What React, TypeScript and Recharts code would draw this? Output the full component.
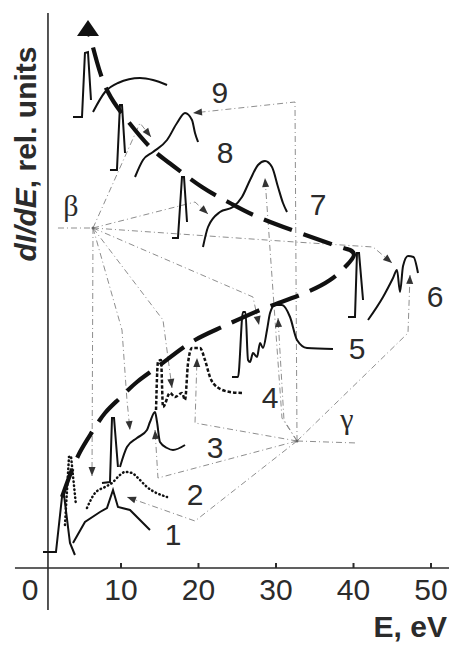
import { LineChart, Line, XAxis, YAxis, ReferenceLine, ReferenceDot } from 'recharts';

type P = [number, number];

// E, eV  vs  dI/dE, rel. units
const X_MIN = -5.61;
const X_MAX = 52.32;
const Y_MAX = 568;
const W = 449;
const H = 646;
const AXIS_H = 78;

const xTicks = [0, 10, 20, 30, 40, 50];

// thick dashed trend line through the sharp peaks
const trend: P[] = [
  [2.39, 71], [3.42, 93], [4.71, 116], [6.26, 136], [7.94, 155], [9.87, 170], [12.06, 186],
  [15.03, 203], [18.9, 225], [23.03, 241], [27.94, 258], [33.1, 273], [36.97, 288], [39.16, 303],
  [40.06, 313], [39.55, 318], [38.26, 321], [33.1, 335], [27.68, 351], [24.06, 365], [20.45, 381],
  [16.58, 403], [13.74, 421], [10.77, 448], [8.32, 476], [6.9, 506], [6.13, 528], [5.87, 533],
];
const trendTip: P = [5.74, 548];

// spectra 1..9 (sharp part / broad part)
const s1a: P[] = [[-0.06, 16], [1.61, 16], [2.39, 71], [2.65, 73], [3.42, 25], [4.06, 13]];
const s1b: P[] = [[3.81, 25], [5.35, 46], [7.29, 56], [8.19, 60], [8.97, 78], [9.61, 61], [11.16, 58], [13.74, 38]];
const s2a: P[] = [[2.77, 43], [3.29, 111], [3.55, 112], [4.19, 63]];
const s2b: P[] = [[5.61, 60], [6.65, 75], [7.94, 81], [8.84, 85], [9.87, 93], [10.52, 96], [11.42, 95], [12.06, 91], [13.35, 81], [15.94, 71]];
const s3a: P[] = [[7.55, 85], [8.58, 86], [8.84, 150], [9.1, 150], [9.61, 101]];
const s3b: P[] = [[9.87, 101], [10.77, 121], [12.06, 130], [13.35, 138], [13.74, 146], [14.39, 156], [14.65, 146], [15.03, 126], [15.94, 120], [16.71, 118], [18.26, 123]];
const s4: P[] = [[14.52, 158], [14.77, 206], [15.16, 208], [15.42, 161], [16.32, 175], [16.97, 171], [17.87, 175], [18.26, 168], [18.65, 205], [19.16, 220], [20.19, 220], [20.84, 208], [21.48, 191], [22.39, 181], [24.06, 176], [25.61, 175]];
const s5: P[] = [[24.32, 191], [25.1, 191], [25.74, 256], [26.06, 256], [26.39, 208], [26.65, 206], [27.03, 215], [27.55, 211], [27.94, 225], [28.32, 220], [28.84, 238], [29.23, 255], [29.87, 263], [30.77, 263], [31.81, 251], [32.71, 228], [34.0, 220], [37.35, 219]];
const s6a: P[] = [[39.29, 251], [40.19, 251], [40.45, 315], [40.71, 315], [41.23, 268]];
const s6b: P[] = [[41.87, 248], [43.81, 271], [45.1, 290], [45.61, 298], [46.0, 276], [46.39, 302], [47.03, 312], [47.74, 311], [48.32, 295]];
const s7a: P[] = [[16.58, 330], [17.35, 330], [17.87, 391], [18.13, 391], [18.52, 346]];
const s7b: P[] = [[20.58, 321], [21.23, 341], [22.77, 356], [24.45, 361], [25.61, 371], [26.65, 388], [27.68, 403], [28.58, 407], [29.48, 401], [30.26, 381], [30.9, 365], [31.42, 356]];
const s8a: P[] = [[8.58, 398], [9.48, 398], [9.87, 463], [10.13, 463], [10.52, 415]];
const s8b: P[] = [[11.81, 391], [12.84, 408], [14.13, 416], [15.94, 428], [17.23, 445], [18.26, 455], [19.16, 448], [19.55, 435], [19.94, 426]];
const s9a: P[] = [[3.81, 451], [4.97, 451], [5.35, 515], [5.74, 516], [6.13, 468]];
const s9b: P[] = [[6.39, 456], [7.94, 476], [9.61, 485], [12.45, 490], [14.13, 488], [15.94, 483]];

// guide lines from the beta and gamma points
const beta: P = [6.39, 340];
const gamma: P = [32.71, 127];
const betaLines: P[][] = [
  [[1.87, 340], beta],
  [beta, [12.45, 445], [13.87, 431]],
  [beta, [19.55, 366], [21.23, 354]],
  [beta, [32.45, 326], [42.52, 321], [44.97, 305]],
  [beta, [27.03, 271], [27.81, 243]],
  [beta, [6.26, 92]],
  [beta, [10.13, 238], [10.77, 168], [11.16, 138]],
  [beta, [15.42, 248], [16.58, 180]],
];
const gammaLines: P[][] = [
  [gamma, [40.45, 125]],
  [gamma, [47.03, 235], [47.29, 293]],
  [gamma, [31.03, 148], [30.26, 250]],
  [gamma, [30.77, 150], [28.58, 390]],
  [gamma, [32.45, 466], [19.29, 455]],
  [gamma, [19.55, 145], [19.81, 210]],
  [gamma, [14.77, 90], [14.39, 138]],
  [gamma, [19.55, 47], [10.77, 71]],
];

const numLabels = ['1', '2', '3', '4', '5', '6', '7', '8', '9'];
const numE = [16.71, 19.55, 22.13, 29.23, 40.45, 50.52, 35.42, 23.42, 22.77];
const numY = [34, 74, 121, 171, 220, 272, 364, 416, 476];

const pts = (a: P[]) => a.map(([x, y]) => ({ x, y }));

const PX_PER_EV = W / (X_MAX - X_MIN);
const PX_PER_UNIT = (H - AXIS_H) / Y_MAX;
const SANS = '"Liberation Sans", Arial, sans-serif';
const SERIF = '"Liberation Serif", "DejaVu Serif", serif';
const INK = '#2b2b2b';
const GUIDE = '#8e8e8e';

function arrowDot(a: P[]) {
  return (props: any) => {
    const { cx, cy, index } = props;
    if (index !== a.length - 1 || cx == null) return <g key={`n${index}`} />;
    const [x0, y0] = a[index - 1];
    const [x1, y1] = a[index];
    const ang = Math.atan2(-(y1 - y0) * PX_PER_UNIT, (x1 - x0) * PX_PER_EV);
    const L = 9;
    const hw = 3.5;
    const bx = cx - L * Math.cos(ang);
    const by = cy - L * Math.sin(ang);
    const nx = -Math.sin(ang) * hw;
    const ny = Math.cos(ang) * hw;
    return (
      <polygon
        key={`a${index}`}
        points={`${cx},${cy} ${bx + nx},${by + ny} ${bx - nx},${by - ny}`}
        fill="#333"
      />
    );
  };
}

const TickMark = (props: any) => {
  const { x, y, payload } = props;
  const v = payload.value;
  return (
    <g>
      {v !== 0 && <line x1={x} x2={x} y1={y - 5} y2={y} stroke={INK} strokeWidth={2} />}
      <text x={v === 0 ? x - 13.5 : x} y={y + 32} textAnchor="middle" fontSize={30} fontFamily={SANS} fill={INK}>
        {v}
      </text>
    </g>
  );
};

const label = (s: string, size = 30, family = SANS) => (p: any) => (
  <text x={p.cx} y={p.cy} dy="0.36em" textAnchor="middle" fontSize={size} fontFamily={family} fill={INK}>
    {s}
  </text>
);

export default function App() {
  const spectra: { d: P[]; kind: 'solid' | 'dot' | 'dash'; curve: 'linear' | 'monotone' }[] = [
    { d: s1a, kind: 'solid', curve: 'linear' },
    { d: s1b, kind: 'solid', curve: 'linear' },
    { d: s2a, kind: 'dot', curve: 'linear' },
    { d: s2b, kind: 'dot', curve: 'monotone' },
    { d: s3a, kind: 'solid', curve: 'linear' },
    { d: s3b, kind: 'solid', curve: 'monotone' },
    { d: s4, kind: 'dash', curve: 'monotone' },
    { d: s5, kind: 'solid', curve: 'monotone' },
    { d: s6a, kind: 'solid', curve: 'linear' },
    { d: s6b, kind: 'solid', curve: 'monotone' },
    { d: s7a, kind: 'solid', curve: 'linear' },
    { d: s7b, kind: 'solid', curve: 'monotone' },
    { d: s8a, kind: 'solid', curve: 'linear' },
    { d: s8b, kind: 'solid', curve: 'monotone' },
    { d: s9a, kind: 'solid', curve: 'linear' },
    { d: s9b, kind: 'solid', curve: 'monotone' },
  ];

  return (
    <div style={{ position: 'absolute', left: 0, top: 0, width: W, height: H, background: '#fff' }}>
      <LineChart width={W} height={H} margin={{ top: 0, right: 0, bottom: 0, left: 0 }}>
        <XAxis
          type="number"
          dataKey="x"
          domain={[X_MIN, X_MAX]}
          allowDataOverflow
          ticks={xTicks}
          height={AXIS_H}
          axisLine={false}
          tickLine={false}
          tickSize={0}
          tickMargin={0}
          tick={<TickMark />}
          interval={0}
        />
        <YAxis type="number" dataKey="y" domain={[0, Y_MAX]} allowDataOverflow hide />

        <ReferenceLine segment={[{ x: -3.68, y: 0 }, { x: X_MAX, y: 0 }]} stroke={INK} strokeWidth={1.6} ifOverflow="visible" />
        <ReferenceLine segment={[{ x: 0.58, y: 555 }, { x: 0.58, y: -42 }]} stroke={INK} strokeWidth={1.6} ifOverflow="visible" />

        {[...betaLines, ...gammaLines].map((g, i) => (
          <Line
            key={`g${i}`}
            data={pts(g)}
            dataKey="y"
            type="linear"
            stroke={GUIDE}
            strokeWidth={1}
            strokeDasharray="6 3 1 3"
            dot={i === 0 || i === betaLines.length ? false : arrowDot(g)}
            activeDot={false}
            isAnimationActive={false}
          />
        ))}

        {spectra.map((s, i) => (
          <Line
            key={`s${i}`}
            data={pts(s.d)}
            dataKey="y"
            type={s.curve}
            stroke="#111"
            fill="none"
            strokeWidth={s.kind === 'solid' ? 2 : 2.5}
            strokeDasharray={s.kind === 'dot' ? '0.5 3.5' : s.kind === 'dash' ? '3.5 2' : undefined}
            strokeLinecap={s.kind === 'dot' ? 'round' : 'butt'}
            dot={false}
            activeDot={false}
            isAnimationActive={false}
          />
        ))}

        <Line
          data={pts(trend)}
          dataKey="y"
          type="natural"
          stroke="#111"
          strokeWidth={4.2}
          strokeDasharray="30 12"
          dot={false}
          activeDot={false}
          isAnimationActive={false}
        />
        <ReferenceDot
          x={trendTip[0]}
          y={trendTip[1]}
          ifOverflow="visible"
          shape={(p: any) => (
            <polygon points={`${p.cx},${p.cy} ${p.cx - 11},${p.cy + 16} ${p.cx + 11},${p.cy + 16}`} fill="#111" />
          )}
        />

        <ReferenceDot x={beta[0]} y={beta[1]} r={1.5} fill="#666" stroke="none" />
        <ReferenceDot x={gamma[0]} y={gamma[1]} r={1.5} fill="#666" stroke="none" />

        {numLabels.map((s, i) => (
          <ReferenceDot key={`l${i}`} x={numE[i]} y={numY[i]} ifOverflow="visible" shape={label(s)} />
        ))}
        <ReferenceDot x={3.55} y={363} ifOverflow="visible" shape={label('β', 30, SERIF)} />
        <ReferenceDot x={39.16} y={150} ifOverflow="visible" shape={label('γ', 30, SERIF)} />

        <ReferenceDot
          x={52.06}
          y={-69}
          ifOverflow="visible"
          shape={(p: any) => (
            <text x={p.cx} y={p.cy} textAnchor="end" fontSize={30} fontWeight="bold" fontFamily={SANS} fill={INK}>
              E, eV
            </text>
          )}
        />
        <ReferenceDot
          x={-0.97}
          y={414}
          ifOverflow="visible"
          shape={(p: any) => (
            <text
              x={p.cx}
              y={p.cy}
              transform={`rotate(-90, ${p.cx}, ${p.cy})`}
              textAnchor="middle"
              fontSize={30}
              fontWeight="bold"
              fontFamily={SANS}
              fill={INK}
            >
              <tspan fontStyle="italic">dI/dE</tspan>
              <tspan>, rel. units</tspan>
            </text>
          )}
        />
      </LineChart>
    </div>
  );
}
